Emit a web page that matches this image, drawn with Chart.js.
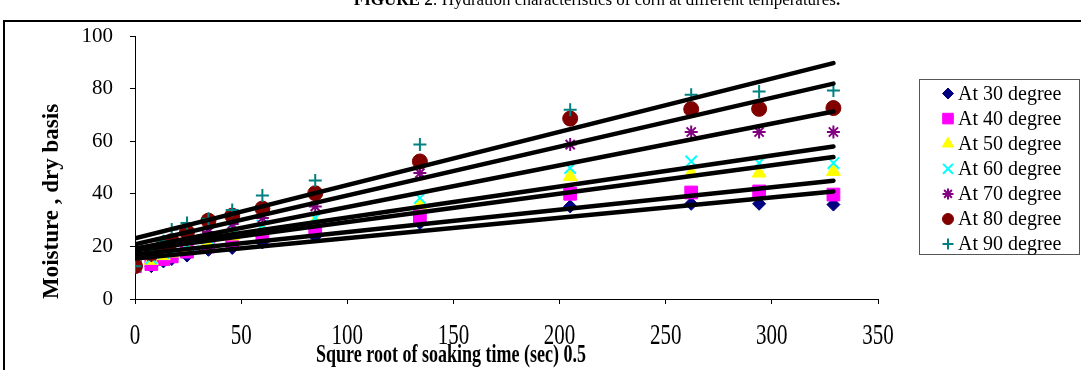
<!DOCTYPE html>
<html>
<head>
<meta charset="utf-8">
<script src="https://cdn.jsdelivr.net/npm/chart.js@4.4.1/dist/chart.umd.min.js"></script>
<style>
    html, body { margin: 0; padding: 0; background: #fff; }
    #wrap { width: 1081px; height: 370px; }
</style>
</head>
<body>
<div id="wrap"><canvas id="corn" width="1081" height="370"></canvas></div>
<script>
// square root of soaking time (sec)^0.5, same for every temperature
const xTime = [0, 7.7, 13.4, 17.3, 24.5, 34.6, 45.8, 60, 84.9, 134.2, 205, 262, 294, 329];

const at30 = [12.5, 12.5, 14.3, 15.2, 16.5, 18.7, 19.4, 21.5, 23.8, 28.9, 35.2, 36.2, 36.2, 35.9];
const at40 = [12.5, 13.3, 15.2, 16.2, 18.0, 20.0, 22.0, 24.0, 26.3, 31.4, 40.0, 40.5, 40.9, 39.7];
const at50 = [12.5, 14.7, 16.5, 17.5, 19.0, 21.5, 24.0, 26.0, 29.5, 35.9, 46.6, 47.9, 47.9, 48.5];
const at60 = [12.5, 15.5, 17.5, 18.5, 20.5, 23.0, 27.0, 28.0, 30.8, 38.4, 49.8, 52.3, 51.7, 51.7];
const at70 = [12.5, 16.5, 19.0, 20.5, 22.5, 25.5, 28.5, 30.8, 35.2, 47.9, 58.7, 63.5, 63.5, 63.5];
const at80 = [12.5, 17.5, 20.5, 22.0, 25.5, 29.8, 31.7, 34.4, 40.2, 52.3, 68.6, 72.2, 72.3, 72.6];
const at90 = [12.5, 18.5, 22.0, 26.4, 28.9, 30.5, 33.8, 39.4, 45.1, 58.7, 72.0, 77.7, 78.9, 79.3];

const seriesNames = ['At 30 degree', 'At 40 degree', 'At 50 degree', 'At 60 degree',
                     'At 70 degree', 'At 80 degree', 'At 90 degree'];
const seriesValues = [at30, at40, at50, at60, at70, at80, at90];

// linear trend lines, read at both ends
const trendX     = [0, 329];
const trendStart = [15.4, 16.9, 18.4, 19.2, 19.1, 20.8, 23.1];
const trendEnd   = [40.9, 45.0, 54.0, 58.0, 71.3, 81.9, 89.7];

const xTicks = [0, 50, 100, 150, 200, 250, 300, 350];
const yTicks = [0, 20, 40, 60, 80, 100];

const caption = ['FIGURE 2', ': Hydration characteristics of corn at different temperatures', '.'];
const xTitle = 'Squre root of soaking time (sec) 0.5';
const yTitle = 'Moisture , dry basis';

const markers = [
    { color: '#000080', style: 'rectRot',  r: 6.5, lr: 5.5, bw: 1 },
    { color: '#FF00FF', style: 'rect',     r: 9,   lr: 7.5, bw: 1 },
    { color: '#FFFF00', style: 'triangle', r: 8,   lr: 6.5, bw: 1 },
    { color: '#00FFFF', style: 'crossRot', r: 8,   lr: 7,   bw: 2 },
    { color: '#800080', style: 'star',     r: 6.5, lr: 5.5, bw: 2 },
    { color: '#800000', style: 'circle',   r: 7.5, lr: 5.5, bw: 1 },
    { color: '#008080', style: 'cross',    r: 6.5, lr: 5.5, bw: 2 }
];

const SERIF = '"Liberation Serif", "Times New Roman", serif';

const datasets = [];

seriesNames.forEach((name, k) => {
    datasets.push({
        label: name,
        data: xTime.map((x, i) => ({ x: x, y: seriesValues[k][i] })),
        backgroundColor: markers[k].color,
        borderColor: markers[k].color,
        pointStyle: markers[k].style,
        pointRadius: markers[k].r,
        pointBorderWidth: markers[k].bw,
        showLine: false,
        order: seriesNames.length - k
    });
});

seriesNames.forEach((name, k) => {
    datasets.push({
        label: 'trend ' + name,
        data: [
            { x: trendX[0], y: trendStart[k] },
            { x: trendX[1], y: trendEnd[k] }
        ],
        showLine: true,
        borderColor: '#000',
        borderWidth: 4.5,
        borderCapStyle: 'round',
        pointRadius: 0,
        order: 0
    });
});

const pagePlugin = {
    id: 'pagePlugin',
    afterDraw(chart) {
        const ctx = chart.ctx;
        const xs = chart.scales.x;
        ctx.save();

        // frame around the figure
        ctx.strokeStyle = '#000';
        ctx.lineWidth = 2;
        ctx.beginPath();
        ctx.moveTo(4, 380);
        ctx.lineTo(4, 21);
        ctx.lineTo(1100, 21);
        ctx.stroke();

        // caption, mostly cut off at the top
        ctx.fillStyle = '#000';
        ctx.textBaseline = 'alphabetic';
        ctx.textAlign = 'left';
        const fonts = ['bold 17px ' + SERIF, '17px ' + SERIF, 'bold 17px ' + SERIF];
        let total = 0;
        caption.forEach((t, i) => { ctx.font = fonts[i]; total += ctx.measureText(t).width; });
        let cx = 597 - total / 2;
        caption.forEach((t, i) => {
            ctx.font = fonts[i];
            ctx.fillText(t, cx, 5);
            cx += ctx.measureText(t).width;
        });

        // x tick labels (tall, narrow type)
        ctx.textAlign = 'center';
        ctx.textBaseline = 'middle';
        ctx.font = '21px ' + SERIF;
        xTicks.forEach(v => {
            ctx.save();
            ctx.translate(xs.getPixelForValue(v), 336);
            ctx.scale(1, 1.4);
            ctx.fillText(String(v), 0, 0);
            ctx.restore();
        });

        // x axis title
        ctx.font = 'bold 18px ' + SERIF;
        ctx.save();
        ctx.translate(451, 355);
        ctx.scale(1, 1.4);
        ctx.fillText(xTitle, 0, 0);
        ctx.restore();

        // legend box
        ctx.strokeStyle = '#555';
        ctx.lineWidth = 1;
        ctx.strokeRect(919.5, 79.5, 160, 175);
        ctx.textAlign = 'left';
        ctx.font = '20px ' + SERIF;
        seriesNames.forEach((name, k) => {
            const y = 93.5 + k * 25.1;
            ctx.fillStyle = markers[k].color;
            ctx.strokeStyle = markers[k].color;
            ctx.lineWidth = markers[k].bw;
            Chart.helpers.drawPoint(ctx, {
                pointStyle: markers[k].style,
                radius: markers[k].lr,
                borderWidth: markers[k].bw,
                rotation: 0
            }, 948, y);
            ctx.fillStyle = '#000';
            ctx.fillText(name, 958, y + 1);
        });

        ctx.restore();
    }
};

new Chart(
    document.getElementById('corn'),
    {
        type: 'scatter',
        data: { datasets: datasets },
        options: {
            responsive: false,
            animation: false,
            events: [],
            layout: {
                padding: { left: 0, right: 203, top: 36, bottom: 0 }
            },
            plugins: {
                legend: { display: false },
                tooltip: { enabled: false },
                title: { display: false }
            },
            scales: {
                x: {
                    type: 'linear',
                    min: 0,
                    max: 350,
                    afterBuildTicks: s => { s.ticks = xTicks.map(v => ({ value: v })); },
                    ticks: { display: false },
                    grid: {
                        drawOnChartArea: false,
                        drawTicks: true,
                        tickLength: 5,
                        color: '#000'
                    },
                    border: { color: '#000', width: 1 },
                    afterFit: s => { s.height = 71; }
                },
                y: {
                    type: 'linear',
                    min: 0,
                    max: 100,
                    afterBuildTicks: s => { s.ticks = yTicks.map(v => ({ value: v })); },
                    ticks: {
                        color: '#000',
                        padding: 17,
                        font: { family: SERIF, size: 21 }
                    },
                    grid: {
                        drawOnChartArea: false,
                        drawTicks: true,
                        tickLength: 5,
                        color: '#000'
                    },
                    border: { color: '#000', width: 1 },
                    title: {
                        display: true,
                        text: yTitle,
                        color: '#000',
                        align: 'start',
                        font: { family: SERIF, size: 23, weight: 'bold' },
                        padding: { top: 38, bottom: 0 }
                    },
                    afterFit: s => { s.width = 135; }
                }
            }
        },
        plugins: [pagePlugin]
    }
);
</script>
</body>
</html>
